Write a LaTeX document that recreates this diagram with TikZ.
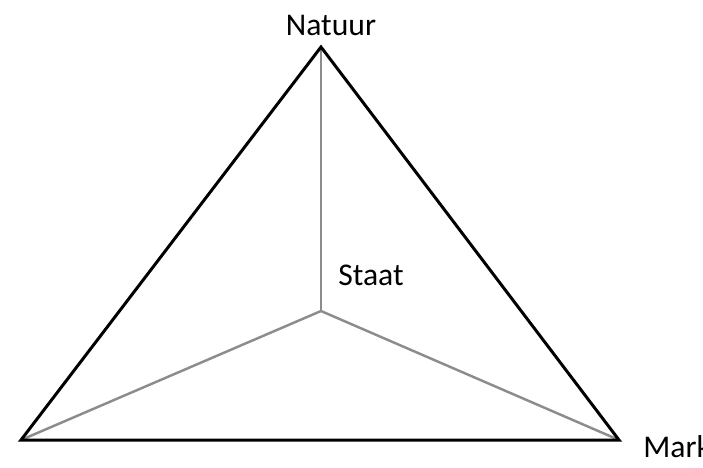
\documentclass[tikz,border=0pt]{standalone}
\usepackage{fontspec}
\setmainfont{Carlito}
\usetikzlibrary{positioning}
\definecolor{spoke}{RGB}{140,140,140}

\begin{document}
\begin{tikzpicture}[font=\fontsize{18}{20}\selectfont, every node/.style={inner sep=0pt},
  rand/.style={draw=black, line width=1.7pt, line join=miter},
  spaak/.style={draw=spoke, line width=1.4pt}]
\useasboundingbox (0,0) rectangle (14.06,9.34);
\clip (0,0) rectangle (14.06,9.34);
\coordinate (natuur) at (6.42,8.40);
\coordinate (links) at (0.42,0.54);
\coordinate (markt) at (12.38,0.54);
\coordinate (staat) at (6.42,3.12);
\draw[spaak] (staat) -- (natuur);
\draw[spaak] (staat) -- (links);
\draw[spaak] (staat) -- (markt);
\draw[rand] (natuur) -- (links) -- (markt) -- cycle;
\node (lnatuur) at (6.62,8.84) {Natuur};
\node[anchor=west] (lstaat) at (6.76,3.84) {Staat};
\node[anchor=west] (lmarkt) at (12.86,0.40) {Mark};
\end{tikzpicture}
\end{document}
